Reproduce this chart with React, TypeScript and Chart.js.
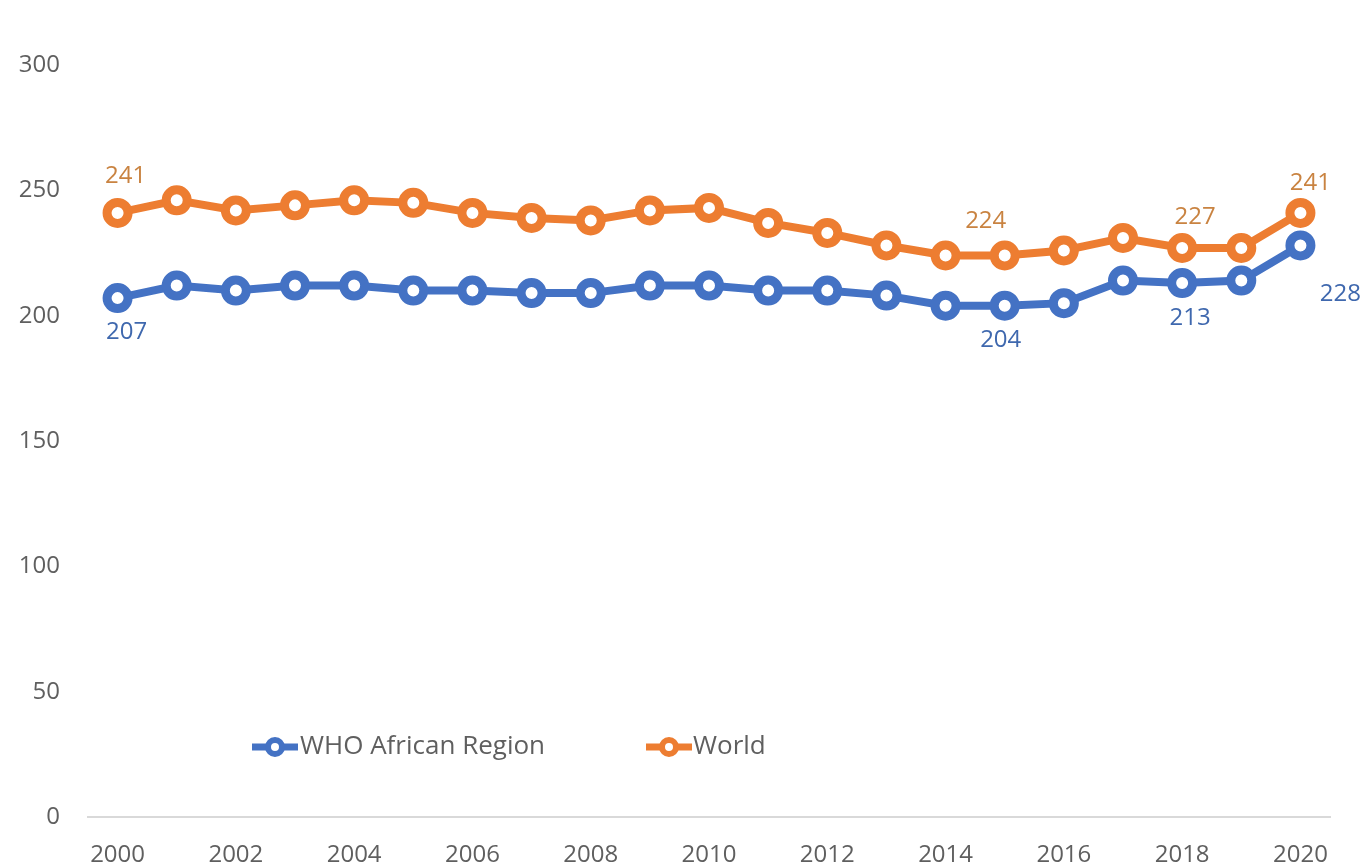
import { useEffect, useRef } from 'react';
import { Chart, registerables } from 'chart.js';

Chart.register(...registerables);

const years = ['2000', '2001', '2002', '2003', '2004', '2005', '2006', '2007', '2008', '2009', '2010',
  '2011', '2012', '2013', '2014', '2015', '2016', '2017', '2018', '2019', '2020'];

const africaValues = [207, 212, 210, 212, 212, 210, 210, 209, 209, 212, 212, 210, 210, 208, 204, 204, 205, 214, 213, 214, 228];
const worldValues = [241, 246, 242, 244, 246, 245, 241, 239, 238, 242, 243, 237, 233, 228, 224, 224, 226, 231, 227, 227, 241];

const seriesNames = ['WHO African Region', 'World'];
const yTicks = [0, 50, 100, 150, 200, 250, 300];

// indices of points that carry a data label
const africaLabelIdx = [0, 15, 18, 20];
const worldLabelIdx = [0, 15, 18, 20];

// styling
const BLUE = '#4472C4';
const ORANGE = '#ED7D31';
const BLUE_TEXT = '#3F68AE';
const ORANGE_TEXT = '#C98341';
const AXIS_TEXT = '#5f5f5f';
const FONT = "'Open Sans', 'Liberation Sans', sans-serif";

const africaLabelOffsets = [
  { dx: 9, dy: 34 },
  { dx: -4, dy: 35 },
  { dx: 8, dy: 35 },
  { dx: 40, dy: 49 },
];
const worldLabelOffsets = [
  { dx: 8, dy: -37 },
  { dx: -19, dy: -34 },
  { dx: 13, dy: -31 },
  { dx: 10, dy: -30 },
];

const legendItems = [
  { markerX: 252, textX: 300 },
  { markerX: 646, textX: 693 },
];

const dataLabelPlugin = {
  id: 'dataLabels',
  afterDatasetsDraw(chart: any) {
    const ctx = chart.ctx;
    ctx.save();
    ctx.font = `24px ${FONT}`;
    ctx.textAlign = 'center';
    ctx.textBaseline = 'middle';
    const cfg = [
      { ds: 0, idx: africaLabelIdx, offs: africaLabelOffsets, color: BLUE_TEXT, vals: africaValues },
      { ds: 1, idx: worldLabelIdx, offs: worldLabelOffsets, color: ORANGE_TEXT, vals: worldValues },
    ];
    cfg.forEach((c) => {
      const meta = chart.getDatasetMeta(c.ds);
      ctx.fillStyle = c.color;
      c.idx.forEach((i, k) => {
        const pt = meta.data[i];
        if (!pt) return;
        ctx.fillText(String(c.vals[i]), pt.x + c.offs[k].dx, pt.y + c.offs[k].dy);
      });
    });
    ctx.restore();
  },
};

const legendPlugin = {
  id: 'insideLegend',
  afterDraw(chart: any) {
    const ctx = chart.ctx;
    const y = 747;
    const colors = [BLUE, ORANGE];
    ctx.save();
    legendItems.forEach((it, k) => {
      const color = colors[k];
      ctx.strokeStyle = color;
      ctx.lineWidth = 7;
      ctx.beginPath();
      ctx.moveTo(it.markerX, y);
      ctx.lineTo(it.markerX + 46, y);
      ctx.stroke();
      ctx.beginPath();
      ctx.arc(it.markerX + 23, y, 7, 0, Math.PI * 2);
      ctx.fillStyle = '#ffffff';
      ctx.fill();
      ctx.lineWidth = 6;
      ctx.stroke();
      ctx.fillStyle = AXIS_TEXT;
      ctx.font = `26px ${FONT}`;
      ctx.textAlign = 'left';
      ctx.textBaseline = 'middle';
      ctx.fillText(seriesNames[k], it.textX, y);
    });
    ctx.restore();
  },
};

export default function App() {
  const canvasRef = useRef<HTMLCanvasElement | null>(null);

  useEffect(() => {
    document.body.style.margin = '0';
    const canvas = canvasRef.current;
    if (!canvas) return;
    const chart = new Chart(canvas, {
      type: 'line',
      data: {
        labels: years,
        datasets: [
          {
            label: seriesNames[0],
            data: africaValues,
            borderColor: BLUE,
            backgroundColor: BLUE,
            borderWidth: 8,
            pointRadius: 10.5,
            pointBorderWidth: 9,
            pointBackgroundColor: '#ffffff',
            pointBorderColor: BLUE,
            tension: 0,
          },
          {
            label: seriesNames[1],
            data: worldValues,
            borderColor: ORANGE,
            backgroundColor: ORANGE,
            borderWidth: 8,
            pointRadius: 10.5,
            pointBorderWidth: 9,
            pointBackgroundColor: '#ffffff',
            pointBorderColor: ORANGE,
            tension: 0,
          },
        ],
      },
      options: {
        responsive: false,
        animation: false,
        layout: { padding: { top: 65, right: 34, bottom: 0, left: 0 } },
        plugins: {
          legend: { display: false },
          tooltip: { enabled: false },
        },
        scales: {
          x: {
            offset: true,
            grid: { display: false, drawTicks: false },
            border: { display: true, color: '#D9D9D9', width: 2 },
            ticks: {
              autoSkip: false,
              maxRotation: 0,
              padding: 24,
              color: AXIS_TEXT,
              font: { family: FONT, size: 24 },
              callback: (_v: any, i: number) => (i % 2 === 0 ? years[i] : ''),
            },
            afterFit: (s: any) => { s.height = 50; },
          },
          y: {
            min: yTicks[0],
            max: yTicks[yTicks.length - 1],
            grid: { display: false, drawTicks: false },
            border: { display: false },
            ticks: {
              stepSize: 50,
              padding: 28,
              color: AXIS_TEXT,
              font: { family: FONT, size: 24 },
            },
            afterFit: (s: any) => { s.width = 88; },
          },
        },
      },
      plugins: [dataLabelPlugin, legendPlugin],
    });
    return () => chart.destroy();
  }, []);

  return (
    <div style={{ width: 1364, height: 867, background: '#ffffff' }}>
      <canvas ref={canvasRef} width={1364} height={867} style={{ display: 'block' }} />
    </div>
  );
}
